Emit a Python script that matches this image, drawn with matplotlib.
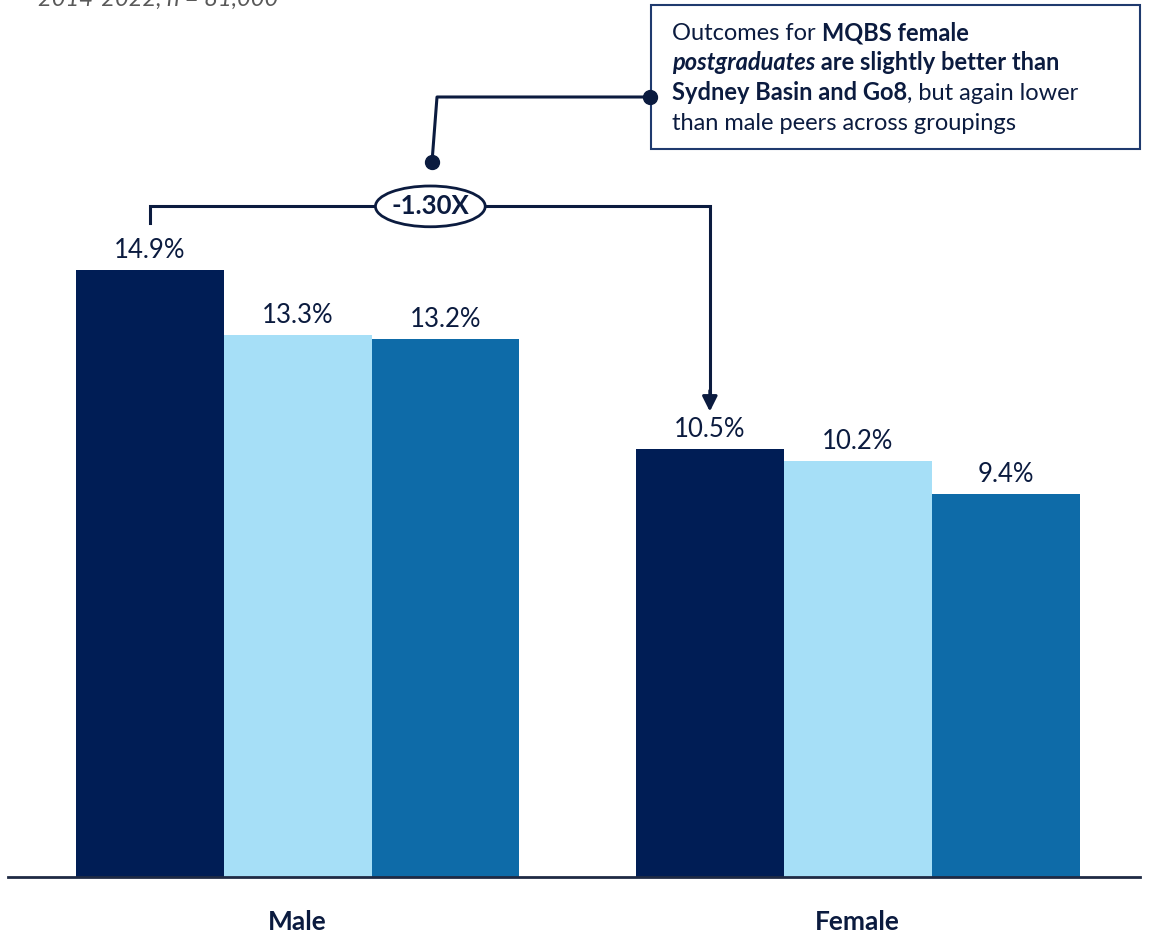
import matplotlib
matplotlib.use("Agg")
import matplotlib.pyplot as plt
import numpy as np
from matplotlib.patches import Ellipse, Rectangle

plt.rcParams["font.family"] = ["Lato", "DejaVu Sans"]

groups = ["Male", "Female"]
series = ["MQBS", "Sydney Basin", "Go8"]
values = {
    "MQBS": [14.9, 10.5],
    "Sydney Basin": [13.3, 10.2],
    "Go8": [13.2, 9.4],
}
colors = ["#001D55", "#A6DFF7", "#0E6BA8"]
ratio_label = "-1.30X"
subtitle = "2014-2022, n = 81,000"

NAVY = "#0B1B3F"
W, H = 1152, 950

fig = plt.figure(figsize=(W / 100, H / 100), dpi=100)
ax = fig.add_axes([8 / W, 73 / H, (1140 - 8) / W, 850 / H])

width = 0.264
x = np.arange(len(groups))
for i, s in enumerate(series):
    pos = x + (i - 1) * width
    ax.bar(pos, values[s], width=width, color=colors[i], zorder=2)
    for px, v in zip(pos, values[s]):
        ax.text(px, v + 0.17, f"{v:.1f}%", ha="center", va="bottom",
                fontsize=18.5, color=NAVY)

ax.set_xlim(-0.517, 1.504)
ax.set_ylim(0, 20.85)
for sp in ["top", "right", "left"]:
    ax.spines[sp].set_visible(False)
ax.spines["bottom"].set_color("#1F2A44")
ax.spines["bottom"].set_linewidth(2)
ax.set_yticks([])
ax.set_xticks(x)
ax.set_xticklabels(groups, fontsize=19, fontweight="bold", color=NAVY)
ax.tick_params(axis="x", length=0, pad=24)

# bracket from male MQBS to female MQBS
xl = x[0] - width
xr = x[1] - width
ybr = 16.45
ax.plot([xl, xl, xr, xr], [16.05, ybr, ybr, 11.7], color=NAVY, lw=2.2,
        solid_joinstyle="miter", clip_on=False, zorder=3)
ax.annotate("", xy=(xr, 11.35), xytext=(xr, 12.0),
            arrowprops=dict(arrowstyle="-|>,head_width=0.45,head_length=0.9",
                            color=NAVY, lw=2.2))
xm = (x[0] + x[1]) / 2 - 0.263
ell = Ellipse((xm, ybr), 0.196, 1.0, facecolor="white", edgecolor=NAVY,
              lw=2, zorder=4, clip_on=False)
ax.add_patch(ell)
ax.text(xm, ybr, ratio_label, ha="center", va="center", fontsize=18.5,
        fontweight="bold", color=NAVY, zorder=5)


# callout box, figure pixel coords (from top)
def fx(p):
    return p / W


def fy(p):
    return 1 - p / H


fig.patches.append(Rectangle((fx(651), fy(149)), fx(1140) - fx(651),
                             fy(5) - fy(149), transform=fig.transFigure,
                             facecolor="white", edgecolor="#1F3A6E", lw=1.5))
fig.lines.append(plt.Line2D([fx(432), fx(437), fx(650)],
                            [fy(162), fy(97), fy(97)],
                            transform=fig.transFigure, color=NAVY, lw=2.2))
fig.lines.append(plt.Line2D([fx(432), fx(650)], [fy(162), fy(97)],
                            transform=fig.transFigure, ls="none", marker="o",
                            ms=10, color=NAVY))

lines = [
    [("Outcomes for ", "normal", "normal"), ("MQBS female", "bold", "normal")],
    [("postgraduates", "bold", "italic"),
     (" are slightly better than", "bold", "normal")],
    [("Sydney Basin and Go8", "bold", "normal"),
     (", but again lower", "normal", "normal")],
    [("than male peers across groupings", "normal", "normal")],
]
fig.canvas.draw()
renderer = fig.canvas.get_renderer()
ys = [33, 63, 93, 123]
for runs, yy in zip(lines, ys):
    cur = 672
    for txt, wgt, sty in runs:
        t = fig.text(fx(cur), fy(yy), txt, fontsize=17, fontweight=wgt,
                     fontstyle=sty, color=NAVY, va="center", ha="left")
        bb = t.get_window_extent(renderer)
        cur += bb.width

fig.text(fx(38), fy(-1), subtitle, fontsize=17, fontstyle="italic",
         color="#595959", va="center", ha="left")

fig.savefig("out.png", dpi=100)
